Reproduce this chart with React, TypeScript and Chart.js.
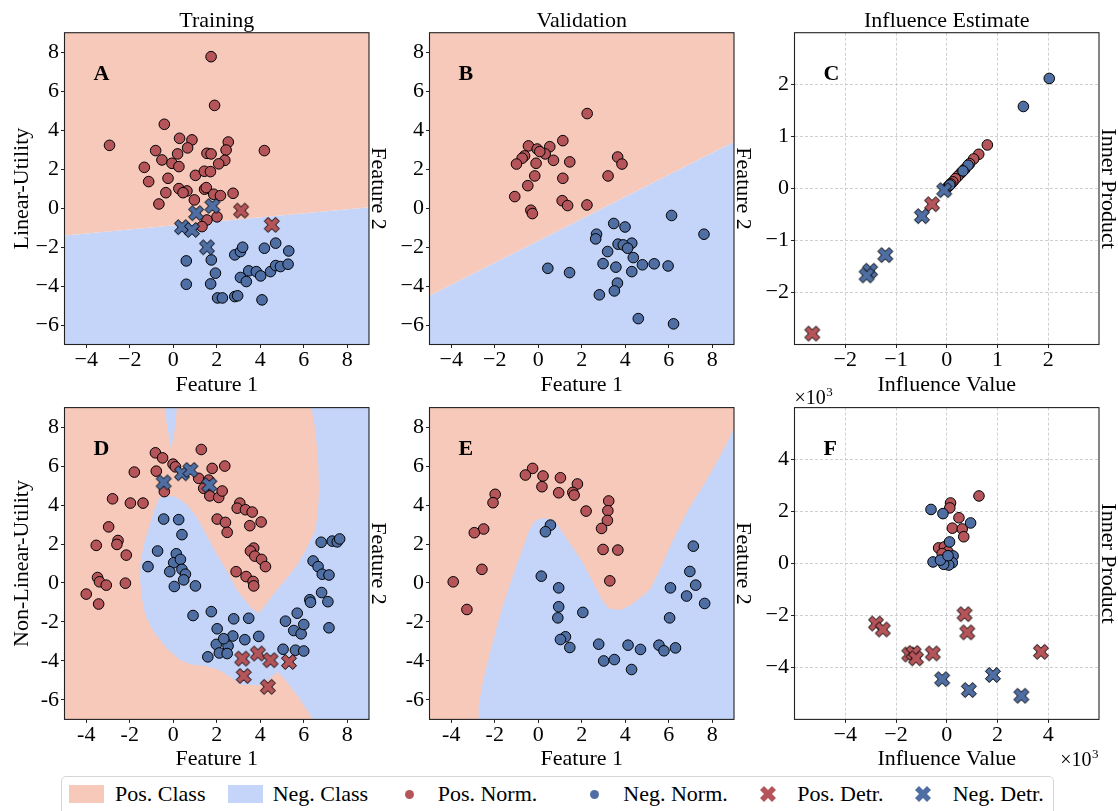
import React, { useEffect, useRef } from "react";
import { Chart, registerables } from "chart.js";

Chart.register(...registerables);

const FONT = "'Liberation Serif', 'Times New Roman', 'DejaVu Serif', serif";
Chart.defaults.font.family = FONT;
Chart.defaults.font.size = 22;
Chart.defaults.color = "#000";

const POS_REGION = "#F7C9BA";
const NEG_REGION = "#C4D5F9";
const POS_MARK = "#B5555A";
const NEG_MARK = "#4F6FA4";

// ---------- axes ----------
const FEAT_X_RANGE = [-5, 9];
const FEAT_Y_RANGE = [-7, 9];
const FEAT_X_TICKS = [-4, -2, 0, 2, 4, 6, 8];
const FEAT_Y_TICKS = [-6, -4, -2, 0, 2, 4, 6, 8];
const C_RANGE = [-3, 3];
const C_TICKS = [-2, -1, 0, 1, 2];
const F_RANGE = [-6000, 6000];
const F_TICKS = [-4000, -2000, 0, 2000, 4000];

// ---------- Panel A (Training, linear) ----------
const A_BOUND_X = [-5, 9];
const A_BOUND_Y = [-1.41, 0.04];
const A_POS_NORM_X = [1.74, 1.9, -0.41, -2.93, 0.29, 0.86, 0.66, -0.81, -0.52, 0.2, -0.06, 0.26, -1.33, -1.13, -0.24, 1.02, 1.43, 1.55, 1.74, 1.71, 2.53, 2.43, 2.37, 2.09, 4.19, 0.26, 0.63, -0.34, 0.45, 1.44, 1.52, 1.86, 2.17, 2.75, 0.97, -0.66, 2.01, 1.55, 1.32];
const A_POS_NORM_Y = [7.77, 5.27, 4.3, 3.22, 3.58, 3.5, 3.09, 2.95, 2.47, 2.78, 2.3, 2.13, 2.09, 1.36, 1.53, 1.68, 1.89, 2.81, 2.78, 1.87, 3.39, 2.98, 2.45, 2.27, 2.95, 1.0, 0.88, 0.79, 0.79, 0.97, 1.05, 0.71, 0.64, 0.76, 0.42, 0.21, -0.45, -0.61, -0.95];
const A_NEG_NORM_X = [0.6, 0.6, 1.75, 1.72, 1.94, 2.04, 2.26, 2.83, 2.96, 2.83, 3.09, 3.19, 3.09, 3.36, 3.47, 3.82, 4.02, 4.08, 4.19, 4.71, 4.47, 4.71, 4.93, 5.28, 5.31];
const A_NEG_NORM_Y = [-2.71, -3.91, -2.66, -3.89, -3.34, -4.61, -4.61, -4.54, -4.5, -2.4, -2.23, -2.01, -3.56, -3.77, -3.22, -3.26, -3.48, -4.71, -2.06, -1.8, -3.26, -2.95, -3.0, -2.88, -2.2];
const A_POS_DETR_X = [3.12, 4.53];
const A_POS_DETR_Y = [-0.13, -0.86];
const A_NEG_DETR_X = [0.4, 0.86, 1.05, 1.8, 1.55];
const A_NEG_DETR_Y = [-0.98, -1.12, -0.26, 0.11, -2.01];

// ---------- Panel B (Validation, linear) ----------
const B_BOUND_X = [-5, 9];
const B_BOUND_Y = [-4.5, 3.41];
const B_POS_NORM_X = [2.25, 1.13, -0.45, -0.05, 0.53, 0.32, 0.07, -0.63, -0.74, -1.0, -0.1, 0.7, 1.45, 3.65, 3.85, 3.21, -0.16, 1.13, -0.48, -1.08, 1.1, 1.35, 2.24, -0.34, -0.27];
const B_POS_NORM_Y = [4.85, 3.46, 3.19, 3.03, 3.15, 2.78, 2.9, 2.68, 2.56, 2.26, 2.3, 2.45, 2.37, 2.62, 2.26, 1.65, 1.65, 1.53, 1.15, 0.59, 0.38, 0.13, 0.16, -0.11, -0.28];
const B_NEG_NORM_X = [6.13, 3.47, 3.99, 2.68, 2.64, 7.62, 3.67, 4.3, 3.91, 4.11, 3.19, 4.37, 2.98, 3.57, 4.79, 5.33, 5.97, 4.3, 0.44, 1.44, 3.64, 3.5, 2.81, 4.6, 6.22];
const B_NEG_NORM_Y = [-0.38, -0.79, -0.97, -1.34, -1.58, -1.34, -1.85, -1.8, -1.89, -2.06, -2.23, -2.54, -2.85, -3.03, -2.91, -2.86, -2.97, -3.26, -3.09, -3.31, -3.85, -4.25, -4.45, -5.67, -5.94];

// ---------- Panel C (Influence, linear) ----------
const C_POS_NORM_X = [0.8, 0.63, 0.53, 0.45, 0.36, 0.28, 0.22, 0.17, 0.12, 0.08, 0.04, 0.01];
const C_POS_NORM_Y = [0.84, 0.66, 0.57, 0.48, 0.38, 0.3, 0.24, 0.19, 0.13, 0.09, 0.05, 0.02];
const C_NEG_NORM_X = [2.02, 1.51, 0.42, 0.32, 0.06];
const C_NEG_NORM_Y = [2.12, 1.58, 0.45, 0.34, 0.07];
const C_POS_DETR_X = [-0.29, -2.65];
const C_POS_DETR_Y = [-0.3, -2.79];
const C_NEG_DETR_X = [-0.05, -0.49, -1.21, -1.51, -1.58];
const C_NEG_DETR_Y = [-0.03, -0.53, -1.28, -1.58, -1.67];

// ---------- Panel D (Training, non-linear) ----------
const D_NEG_REGION_X = [6.35, 6.5, 6.65, 6.7, 6.65, 6.5, 6.13, 5.7, 5.21, 4.63, 4.17, 3.93, 3.55, 2.94, 2.48, 1.94, 1.4, 1.02, 0.63, 0.25, 0.02, -0.44, -0.67, -0.9, -1.13, -1.36, -1.52, -1.52, -1.44, -1.28, -0.9, -0.29, 0.33, 0.79, 1.4, 2.02, 2.63, 3.09, 3.86, 4.16, 4.78, 5.09, 5.7, 6.44, 9, 9];
const D_NEG_REGION_Y = [9, 8.11, 6.57, 4.86, 3.49, 2.63, 1.77, 0.92, 0.23, -0.54, -1.25, -1.55, -1.25, -0.37, 0.58, 1.6, 2.72, 3.49, 4.0, 4.34, 4.45, 4.45, 4.34, 3.66, 2.8, 1.95, 0.92, 0.06, -0.79, -1.65, -2.51, -3.36, -3.96, -4.18, -4.25, -4.42, -4.82, -5.21, -5.25, -5.21, -4.56, -4.9, -5.76, -7, -7, 9];
const D_NEG_SPIKE_X = [-0.41, -0.1, -0.01, 0.1, 0.17];
const D_NEG_SPIKE_Y = [9, 6.83, 7.42, 8.11, 9];
const D_POS_NORM_X = [-0.82, -0.49, 1.29, -0.01, 0.1, -0.78, -1.79, 1.79, 2.37, 1.17, 1.63, 1.4, 1.68, 2.09, 2.25, -0.41, -2.79, -1.97, -1.39, 3.06, 2.94, 3.32, 3.63, 2.02, 2.4, 2.48, 4.04, 3.52, -2.97, -2.54, -2.59, -3.54, -2.16, 3.7, 3.55, 3.75, 4.06, 4.24, 2.89, 3.35, 3.67, 3.7, -3.48, -3.39, -3.08, -2.2, -4.0, -3.43];
const D_POS_NORM_Y = [6.68, 6.42, 6.85, 6.1, 5.96, 5.74, 5.69, 5.88, 6.0, 5.37, 5.28, 4.86, 4.47, 4.39, 4.72, 4.69, 4.32, 4.1, 4.1, 4.1, 3.84, 3.76, 3.64, 3.28, 3.11, 2.6, 3.13, 2.94, 2.88, 2.18, 1.98, 1.93, 1.43, 1.79, 1.64, 1.38, 1.21, 0.84, 0.58, 0.33, 0.08, -0.15, 0.28, 0.06, -0.11, -0.01, -0.57, -1.08];
const D_NEG_NORM_X = [-0.44, 0.25, 0.4, -0.72, -1.16, 0.14, 0.02, 0.33, -0.16, 0.4, 0.56, 0.48, 0.05, 1.02, 0.91, 1.75, 2.78, 3.47, 2.02, 2.74, 3.29, 3.93, 1.98, 2.52, 2.32, 2.12, 2.48, 1.59, 5.16, 5.7, 5.54, 5.88, 6.0, 5.62, 6.0, 5.05, 6.43, 6.66, 6.8, 6.85, 7.16, 6.82, 6.28, 6.31, 7.11, 7.16, 7.31, 7.54, 7.65];
const D_NEG_NORM_Y = [3.28, 3.25, 2.48, 1.64, 0.84, 1.5, 1.04, 1.21, 0.58, 0.7, 0.45, 0.16, -0.18, -0.15, -1.67, -1.47, -1.84, -1.81, -2.35, -2.72, -2.91, -2.74, -3.15, -3.23, -2.86, -3.59, -3.62, -3.79, -1.96, -1.55, -2.44, -2.61, -2.13, -3.45, -3.49, -3.4, 1.13, 0.84, 2.09, 0.45, 0.41, -0.49, -0.86, -0.99, -0.96, -2.3, 2.15, 2.11, 2.26];
const D_POS_DETR_X = [3.17, 3.89, 4.47, 5.32, 3.24, 4.35];
const D_POS_DETR_Y = [-3.88, -3.62, -3.96, -4.05, -4.77, -5.33];
const D_NEG_DETR_X = [-0.44, 0.4, 0.79, 1.66];
const D_NEG_DETR_Y = [5.16, 5.63, 5.8, 5.03];

// ---------- Panel E (Validation, non-linear) ----------
const E_NEG_REGION_X = [-2.77, -2.74, -2.51, -2.13, -1.67, -1.21, -0.82, -0.44, -0.16, 0.17, 0.56, 0.86, 1.4, 2.02, 2.55, 2.94, 3.24, 3.78, 4.24, 4.86, 5.16, 5.55, 6.16, 6.93, 7.7, 8.39, 8.77, 9.0, 9.0];
const E_NEG_REGION_Y = [-7, -6.27, -4.9, -3.19, -1.31, 0.23, 1.43, 2.63, 3.18, 3.32, 3.28, 3.01, 2.12, 1.09, -0.02, -0.88, -1.31, -1.39, -1.14, -0.62, -0.28, 0.58, 2.12, 3.83, 5.2, 6.57, 7.42, 7.94, -7];
const E_POS_NORM_X = [-0.26, -0.59, 0.22, 1.02, 1.8, 0.17, 0.94, 1.59, 1.65, -1.98, -2.08, 2.2, 3.24, 3.2, 3.18, 2.91, -2.51, -2.94, 2.98, 3.66, -2.59, -3.91, 3.29, -3.28];
const E_POS_NORM_Y = [5.88, 5.54, 5.49, 5.4, 5.08, 4.94, 4.63, 4.65, 4.51, 4.55, 4.12, 3.69, 4.21, 3.71, 3.21, 2.8, 2.77, 2.58, 1.72, 1.69, 0.7, 0.06, 0.11, -1.36];
const E_NEG_NORM_X = [0.56, 0.33, 0.14, 0.94, 0.94, 0.9, 2.05, 1.25, 1.02, 1.45, 2.78, 3.01, 3.5, 4.13, 4.7, 4.29, 5.55, 5.78, 6.31, 6.04, 6.08, 6.82, 7.24, 6.97, 7.13, 7.65];
const E_NEG_NORM_Y = [2.97, 2.63, 0.35, -0.25, -1.22, -1.79, -1.51, -2.76, -2.9, -3.31, -3.14, -4.0, -3.93, -3.19, -3.41, -4.44, -3.19, -3.48, -3.33, -1.79, -0.25, -0.67, -0.11, 0.59, 1.89, -1.05];

// ---------- Panel F (Influence, non-linear) ----------
const F_POS_NORM_X = [1270, 150, 120, 480, 220, 610, 670, -320, -90, 40, -10, -180];
const F_POS_NORM_Y = [2600, 2330, 2140, 1760, 1360, 1330, 1030, 600, 640, 460, 30, 380];
const F_NEG_NORM_X = [-620, -150, 940, 110, -540, 250, 220, 80, -120, -250, 50];
const F_NEG_NORM_Y = [2080, 1920, 1560, 830, 60, 290, 30, -60, -30, 130, 300];
const F_POS_DETR_X = [-2790, -2520, 700, 810, -1480, -1310, -1210, -550, 3710];
const F_POS_DETR_Y = [-2310, -2540, -1950, -2650, -3500, -3440, -3650, -3460, -3400];
const F_NEG_DETR_X = [-180, 870, 1820, 2940];
const F_NEG_DETR_Y = [-4450, -4870, -4290, -5090];

// ---------- layout ----------
const W = 1118;
const H = 811;
const COL_LEFT = [64.5, 429.5, 794.5];
const ROW_TOP = [32.7, 407.6];
const PLOT_W = 304.5;
const PLOT_H = 311.8;
const Y_AXIS_W = 50;
const X_AXIS_H = 30;

const X_UNIT = [[0.25, 0], [0.5, 0.25], [0.75, 0], [1, 0.25], [0.75, 0.5], [1, 0.75], [0.75, 1], [0.5, 0.75], [0.25, 1], [0, 0.75], [0.25, 0.5], [0, 0.25]];

function makeX(color: string, size: number): HTMLCanvasElement {
  const c = document.createElement("canvas");
  const dim = Math.ceil(size + 3);
  c.width = dim;
  c.height = dim;
  const ctx = c.getContext("2d")!;
  const o = (dim - size) / 2;
  ctx.beginPath();
  X_UNIT.forEach(([u, v], i) => {
    const px = o + u * size;
    const py = o + v * size;
    if (i === 0) ctx.moveTo(px, py);
    else ctx.lineTo(px, py);
  });
  ctx.closePath();
  ctx.fillStyle = color;
  ctx.fill();
  ctx.lineWidth = 1;
  ctx.strokeStyle = "#000";
  ctx.lineJoin = "miter";
  ctx.stroke();
  return c;
}

const pts = (xs: number[], ys: number[]) => xs.map((x, i) => ({ x, y: ys[i] }));

const region = (xs: number[], ys: number[], color: string, fill: any, order: number) => ({
  data: pts(xs, ys),
  showLine: true,
  fill,
  backgroundColor: color,
  borderColor: color,
  borderWidth: 0,
  pointRadius: 0,
  pointHoverRadius: 0,
  order,
});

const circles = (xs: number[], ys: number[], color: string, order: number) => ({
  data: pts(xs, ys),
  pointStyle: "circle",
  pointRadius: 5.3,
  pointHoverRadius: 5.3,
  pointBackgroundColor: color,
  pointBorderColor: "#000",
  pointBorderWidth: 1,
  order,
});

const crosses = (xs: number[], ys: number[], img: HTMLCanvasElement, order: number) => ({
  data: pts(xs, ys),
  pointStyle: img,
  pointRadius: 8,
  pointHoverRadius: 8,
  order,
});

const fmtMinus = (v: number) => (v < 0 ? "\u2212" + Math.abs(v) : String(v));
const fmtHyphen = (v: number) => String(v);
const fmtThousands = (v: number) => fmtMinus(v / 1000);

const decorPlugin = {
  id: "decor",
  afterDraw(chart: any, _args: any, opts: any) {
    const { ctx, chartArea: a } = chart;
    ctx.save();
    ctx.strokeStyle = "#222";
    ctx.lineWidth = 1.1;
    ctx.strokeRect(a.left, a.top, a.right - a.left, a.bottom - a.top);
    const cx = (a.left + a.right) / 2;
    const cy = (a.top + a.bottom) / 2;
    ctx.fillStyle = "#000";
    ctx.font = `22px ${FONT}`;
    ctx.textAlign = "center";
    ctx.textBaseline = "alphabetic";
    if (opts.title) ctx.fillText(opts.title, cx, a.top - 6);
    ctx.fillText(opts.xLabel, cx, a.bottom + 46);
    if (opts.leftLabel) {
      ctx.save();
      ctx.translate(a.left - 42, cy);
      ctx.rotate(-Math.PI / 2);
      ctx.textBaseline = "middle";
      ctx.fillText(opts.leftLabel, 0, 0);
      ctx.restore();
    }
    if (opts.rightLabel) {
      ctx.save();
      ctx.translate(a.right + 2.5, cy);
      ctx.rotate(Math.PI / 2);
      ctx.textBaseline = "alphabetic";
      ctx.fillText(opts.rightLabel, 0, 0);
      ctx.restore();
    }
    ctx.font = `bold 22px ${FONT}`;
    ctx.textAlign = "left";
    ctx.fillText(opts.letter, a.left + 29, a.top + 47.5);
    if (opts.offset) {
      const drawOffset = (x: number, y: number, alignRight: boolean) => {
        ctx.font = `20px ${FONT}`;
        const base = "\u00d710";
        const wb = ctx.measureText(base).width;
        ctx.font = `13px ${FONT}`;
        const ws = ctx.measureText("3").width;
        const x0 = alignRight ? x - wb - ws : x;
        ctx.textAlign = "left";
        ctx.font = `20px ${FONT}`;
        ctx.fillText(base, x0, y);
        ctx.font = `13px ${FONT}`;
        ctx.fillText("3", x0 + wb + 0.5, y - 8);
      };
      drawOffset(a.left, a.top - 3.5, false);
      drawOffset(a.right - 1, a.bottom + 47, true);
    }
    ctx.restore();
  },
};

type PanelCfg = {
  col: number;
  row: number;
  xRange: number[];
  yRange: number[];
  xTicks: number[];
  yTicks: number[];
  fmt: (v: number) => string;
  grid: boolean;
  datasets: () => any[];
  decor: any;
};

function axis(range: number[], ticks: number[], fmt: (v: number) => string, grid: boolean, isX: boolean) {
  return {
    type: "linear",
    min: range[0],
    max: range[1],
    afterBuildTicks: (s: any) => {
      s.ticks = ticks.map((v) => ({ value: v }));
    },
    afterFit: (s: any) => {
      if (isX) s.height = X_AXIS_H;
      else s.width = Y_AXIS_W;
    },
    ticks: {
      callback: (v: any) => fmt(Number(v)),
      font: { family: FONT, size: 22, lineHeight: 1 },
      color: "#000",
      padding: isX ? 1.5 : 2,
      autoSkip: false,
      maxRotation: 0,
      minRotation: 0,
    },
    grid: {
      display: true,
      drawOnChartArea: grid,
      drawTicks: true,
      tickLength: 3.5,
      tickColor: "#222",
      tickWidth: 1,
      color: "#c4c4c4",
      lineWidth: 0.8,
    },
    border: { display: false, dash: grid ? [3, 2] : [] },
  };
}

function buildConfig(cfg: PanelCfg): any {
  const left = COL_LEFT[cfg.col];
  const top = ROW_TOP[cfg.row];
  return {
    type: "scatter",
    data: { datasets: cfg.datasets() },
    options: {
      responsive: false,
      animation: false,
      events: [],
      layout: {
        padding: {
          left: left - Y_AXIS_W,
          top: top,
          right: W - (left + PLOT_W),
          bottom: H - (top + PLOT_H) - X_AXIS_H,
        },
      },
      plugins: {
        legend: { display: false },
        tooltip: { enabled: false },
        decor: cfg.decor,
      },
      scales: {
        x: axis(cfg.xRange, cfg.xTicks, cfg.fmt, cfg.grid, true),
        y: axis(cfg.yRange, cfg.yTicks, cfg.fmt, cfg.grid, false),
      },
    },
    plugins: [decorPlugin],
  };
}

const RECT_X = [FEAT_X_RANGE[0], FEAT_X_RANGE[1], FEAT_X_RANGE[1], FEAT_X_RANGE[0]];
const RECT_Y = [FEAT_Y_RANGE[0], FEAT_Y_RANGE[0], FEAT_Y_RANGE[1], FEAT_Y_RANGE[1]];

function markers(pn: number[][], nn: number[][], pd: number[][] | null, nd: number[][] | null) {
  const out: any[] = [circles(pn[0], pn[1], POS_MARK, 4), circles(nn[0], nn[1], NEG_MARK, 3)];
  if (pd) out.push(crosses(pd[0], pd[1], makeX(POS_MARK, 15), 2));
  if (nd) out.push(crosses(nd[0], nd[1], makeX(NEG_MARK, 15), 1));
  return out;
}

const PANELS: PanelCfg[] = [
  {
    col: 0, row: 0, xRange: FEAT_X_RANGE, yRange: FEAT_Y_RANGE, xTicks: FEAT_X_TICKS, yTicks: FEAT_Y_TICKS, fmt: fmtMinus, grid: false,
    datasets: () => [
      region(A_BOUND_X, A_BOUND_Y, POS_REGION, "end", 10),
      region(A_BOUND_X, A_BOUND_Y, NEG_REGION, "start", 10),
      ...markers([A_POS_NORM_X, A_POS_NORM_Y], [A_NEG_NORM_X, A_NEG_NORM_Y], [A_POS_DETR_X, A_POS_DETR_Y], [A_NEG_DETR_X, A_NEG_DETR_Y]),
    ],
    decor: { letter: "A", title: "Training", leftLabel: "Linear-Utility", rightLabel: "Feature 2", xLabel: "Feature 1" },
  },
  {
    col: 1, row: 0, xRange: FEAT_X_RANGE, yRange: FEAT_Y_RANGE, xTicks: FEAT_X_TICKS, yTicks: FEAT_Y_TICKS, fmt: fmtMinus, grid: false,
    datasets: () => [
      region(B_BOUND_X, B_BOUND_Y, POS_REGION, "end", 10),
      region(B_BOUND_X, B_BOUND_Y, NEG_REGION, "start", 10),
      ...markers([B_POS_NORM_X, B_POS_NORM_Y], [B_NEG_NORM_X, B_NEG_NORM_Y], null, null),
    ],
    decor: { letter: "B", title: "Validation", rightLabel: "Feature 2", xLabel: "Feature 1" },
  },
  {
    col: 2, row: 0, xRange: C_RANGE, yRange: C_RANGE, xTicks: C_TICKS, yTicks: C_TICKS, fmt: fmtMinus, grid: true,
    datasets: () => markers([C_POS_NORM_X, C_POS_NORM_Y], [C_NEG_NORM_X, C_NEG_NORM_Y], [C_POS_DETR_X, C_POS_DETR_Y], [C_NEG_DETR_X, C_NEG_DETR_Y]),
    decor: { letter: "C", title: "Influence Estimate", rightLabel: "Inner Product", xLabel: "Influence Value" },
  },
  {
    col: 0, row: 1, xRange: FEAT_X_RANGE, yRange: FEAT_Y_RANGE, xTicks: FEAT_X_TICKS, yTicks: FEAT_Y_TICKS, fmt: fmtHyphen, grid: false,
    datasets: () => [
      region(RECT_X, RECT_Y, POS_REGION, "shape", 12),
      region(D_NEG_REGION_X, D_NEG_REGION_Y, NEG_REGION, "shape", 11),
      region(D_NEG_SPIKE_X, D_NEG_SPIKE_Y, NEG_REGION, "shape", 11),
      ...markers([D_POS_NORM_X, D_POS_NORM_Y], [D_NEG_NORM_X, D_NEG_NORM_Y], [D_POS_DETR_X, D_POS_DETR_Y], [D_NEG_DETR_X, D_NEG_DETR_Y]),
    ],
    decor: { letter: "D", leftLabel: "Non-Linear-Utility", rightLabel: "Feature 2", xLabel: "Feature 1" },
  },
  {
    col: 1, row: 1, xRange: FEAT_X_RANGE, yRange: FEAT_Y_RANGE, xTicks: FEAT_X_TICKS, yTicks: FEAT_Y_TICKS, fmt: fmtHyphen, grid: false,
    datasets: () => [
      region(RECT_X, RECT_Y, POS_REGION, "shape", 12),
      region(E_NEG_REGION_X, E_NEG_REGION_Y, NEG_REGION, "shape", 11),
      ...markers([E_POS_NORM_X, E_POS_NORM_Y], [E_NEG_NORM_X, E_NEG_NORM_Y], null, null),
    ],
    decor: { letter: "E", rightLabel: "Feature 2", xLabel: "Feature 1" },
  },
  {
    col: 2, row: 1, xRange: F_RANGE, yRange: F_RANGE, xTicks: F_TICKS, yTicks: F_TICKS, fmt: fmtThousands, grid: true,
    datasets: () => markers([F_POS_NORM_X, F_POS_NORM_Y], [F_NEG_NORM_X, F_NEG_NORM_Y], [F_POS_DETR_X, F_POS_DETR_Y], [F_NEG_DETR_X, F_NEG_DETR_Y]),
    decor: { letter: "F", rightLabel: "Inner Product", xLabel: "Influence Value", offset: true },
  },
];

function Panel({ cfg }: { cfg: PanelCfg }) {
  const ref = useRef<HTMLCanvasElement>(null);
  useEffect(() => {
    const chart = new Chart(ref.current as HTMLCanvasElement, buildConfig(cfg));
    return () => chart.destroy();
  }, [cfg]);
  return <canvas ref={ref} width={W} height={H} style={{ position: "absolute", left: 0, top: 0 }} />;
}

const X_POINTS = (size: number) => X_UNIT.map(([u, v]) => `${u * size},${v * size}`).join(" ");

const LEGEND_ITEMS = [
  { kind: "patch", color: POS_REGION, icon: 69, text: "Pos. Class", tx: 115 },
  { kind: "patch", color: NEG_REGION, icon: 227.7, text: "Neg. Class", tx: 272.7 },
  { kind: "dot", color: POS_MARK, icon: 409, text: "Pos. Norm.", tx: 437.7 },
  { kind: "dot", color: NEG_MARK, icon: 594, text: "Neg. Norm.", tx: 623.3 },
  { kind: "x", color: POS_MARK, icon: 768.3, text: "Pos. Detr.", tx: 797.3 },
  { kind: "x", color: NEG_MARK, icon: 923.3, text: "Neg. Detr.", tx: 952.7 },
];

function Legend() {
  const cy = 794;
  return (
    <>
      <div
        style={{
          position: "absolute",
          left: 61,
          top: 776,
          width: 993,
          height: 60,
          border: "1px solid #d6d6d6",
          borderRadius: 5,
          background: "#fff",
          boxSizing: "border-box",
        }}
      />
      {LEGEND_ITEMS.map((it) => (
        <React.Fragment key={it.text}>
          {it.kind === "patch" && (
            <div style={{ position: "absolute", left: it.icon, top: 785, width: 35, height: 17.5, background: it.color }} />
          )}
          {it.kind === "dot" && (
            <div
              style={{
                position: "absolute",
                left: it.icon - 4.5,
                top: cy - 4.5,
                width: 9,
                height: 9,
                borderRadius: "50%",
                background: it.color,
              }}
            />
          )}
          {it.kind === "x" && (
            <svg width={16} height={16} style={{ position: "absolute", left: it.icon - 8, top: cy - 8 }}>
              <polygon points={X_POINTS(16)} fill={it.color} />
            </svg>
          )}
          <span
            style={{
              position: "absolute",
              left: it.tx,
              top: 782.6,
              fontFamily: FONT,
              fontSize: 22,
              lineHeight: "22px",
              whiteSpace: "nowrap",
              color: "#000",
            }}
          >
            {it.text}
          </span>
        </React.Fragment>
      ))}
    </>
  );
}

export default function App() {
  return (
    <div
      style={{
        position: "absolute",
        left: 0,
        top: 0,
        width: W,
        height: H,
        overflow: "hidden",
        background: "#fff",
      }}
    >
      {PANELS.map((p, i) => (
        <Panel key={i} cfg={p} />
      ))}
      <Legend />
    </div>
  );
}
